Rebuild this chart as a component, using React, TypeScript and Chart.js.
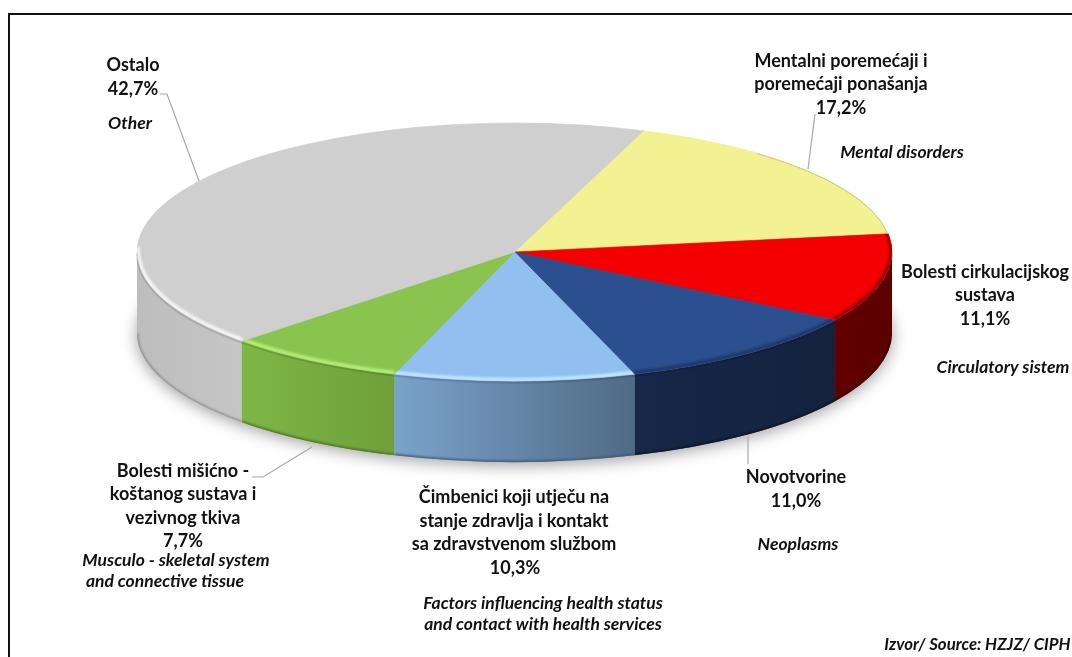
import React, { useEffect, useRef } from "react";
import { Chart, registerables } from "chart.js";

Chart.register(...registerables);

const categories = [
  "Mentalni poremećaji i poremećaji ponašanja",
  "Bolesti cirkulacijskog sustava",
  "Novotvorine",
  "Čimbenici koji utječu na stanje zdravlja i kontakt sa zdravstvenom službom",
  "Bolesti mišićno - koštanog sustava i vezivnog tkiva",
  "Ostalo",
];
const values = [17.2, 11.1, 11.0, 10.3, 7.7, 42.7];
const percentLabels = ["17,2%", "11,1%", "11,0%", "10,3%", "7,7%", "42,7%"];
const topColors = ["#f2f293", "#f50000", "#2c4f8f", "#90bff0", "#89c44f", "#cfcfcf"];
const wallLeftColors = ["#b8b878", "#620000", "#16274a", "#7aa3cb", "#7eb746", "#bdbdbd"];
const wallRightColors = ["#b8b878", "#5c0000", "#14223c", "#4f6a85", "#6f9f3a", "#c6c6c6"];
const bevelColors = ["#c9c98a", "#9c0000", "#1e3a6c", "#bfe6ff", "#b4ec78", "#f4f4f4"];
const baseEdgeColors = ["#888850", "#3a0000", "#0d1728", "#3f5a78", "#4e7328", "#8f8f8f"];

const englishLabels = [
  "Mental disorders",
  "Circulatory sistem",
  "Neoplasms",
  "Factors influencing health status",
  "and contact with health services",
  "Musculo - skeletal system",
  "and connective tissue",
  "Other",
];
const sourceLabel = "Izvor/ Source: HZJZ/ CIPH";

const BOLD = 'bold 18px Lato, "Open Sans", sans-serif';
const ITALIC = 'italic bold 17.5px Lato, "Open Sans", sans-serif';
const SOURCE = 'italic bold 16.8px Lato, "Open Sans", sans-serif';

const textBlocks: [string, number, number, string][] = [
  ["Ostalo", 133, 71, BOLD],
  [percentLabels[5], 133, 95, BOLD],
  [englishLabels[7], 130, 129, ITALIC],
  ["Mentalni poremećaji i", 841, 67, BOLD],
  ["poremećaji ponašanja", 841, 90, BOLD],
  [percentLabels[0], 841, 114, BOLD],
  [englishLabels[0], 902, 158, ITALIC],
  ["Bolesti cirkulacijskog", 985, 278, BOLD],
  ["sustava", 985, 301, BOLD],
  [percentLabels[1], 985, 325, BOLD],
  [englishLabels[1], 1003, 373, ITALIC],
  ["Novotvorine", 796, 483, BOLD],
  [percentLabels[2], 796, 507, BOLD],
  [englishLabels[2], 798, 550, ITALIC],
  ["Čimbenici koji utječu na", 514, 503, BOLD],
  ["stanje zdravlja i kontakt", 514, 527, BOLD],
  ["sa zdravstvenom službom", 514, 550, BOLD],
  [percentLabels[3], 515, 574, BOLD],
  [englishLabels[3], 543, 609, ITALIC],
  [englishLabels[4], 543, 630, ITALIC],
  ["Bolesti mišićno -", 183, 477, BOLD],
  ["koštanog sustava i", 183, 500, BOLD],
  ["vezivnog tkiva", 183, 524, BOLD],
  [percentLabels[4], 183, 547, BOLD],
  [englishLabels[5], 176, 566, ITALIC],
  [englishLabels[6], 165, 587, ITALIC],
  [sourceLabel, 977.5, 650, SOURCE],
];

const leaders: [number, number][][] = [
  [[160, 94], [167, 94], [199, 181]],
  [[815, 114], [808, 169]],
  [[252, 477], [263, 477], [312, 447]],
  [[748, 437], [748, 464]],
];

const SQUASH = 129 / 377.5;
const DEPTH = 81;

function spans(a0: number, a1: number, lo: number, hi: number): [number, number][] {
  const out: [number, number][] = [];
  for (let k = -2; k <= 2; k++) {
    const s = Math.max(a0 + k * 2 * Math.PI, lo);
    const e = Math.min(a1 + k * 2 * Math.PI, hi);
    if (e > s) out.push([s, e]);
  }
  return out;
}

const pie3d = {
  id: "pie3d",
  beforeDatasetsDraw(chart: any) {
    const ctx: CanvasRenderingContext2D = chart.ctx;
    const arcs = chart.getDatasetMeta(0).data;
    const { x: cx, y: cy, outerRadius: rx } = arcs[0];
    const ry = rx * SQUASH;

    // soft ground shadow
    ctx.save();
    ctx.shadowColor = "rgba(0,0,0,0.38)";
    ctx.shadowBlur = 16;
    ctx.shadowOffsetY = 3;
    ctx.fillStyle = "#bbbbbb";
    ctx.beginPath();
    ctx.ellipse(cx, cy + DEPTH, rx, ry, 0, 0, Math.PI * 2);
    ctx.fill();
    ctx.restore();

    // back face filler under the top
    ctx.fillStyle = "#ffffff";
    ctx.beginPath();
    ctx.ellipse(cx, cy, rx, ry, 0, Math.PI, Math.PI * 2);
    ctx.fill();

    // side walls
    arcs.forEach((el: any, i: number) => {
      spans(el.startAngle, el.endAngle, 0, Math.PI).forEach(([s, e]) => {
        const xa = cx + rx * Math.cos(e);
        const xb = cx + rx * Math.cos(s);
        const g = ctx.createLinearGradient(xa, 0, xb, 0);
        g.addColorStop(0, wallLeftColors[i]);
        g.addColorStop(1, wallRightColors[i]);
        ctx.save();
        ctx.beginPath();
        ctx.ellipse(cx, cy, rx, ry, 0, s, e);
        ctx.ellipse(cx, cy + DEPTH, rx, ry, 0, e, s, true);
        ctx.closePath();
        ctx.fillStyle = g;
        ctx.fill();
        ctx.clip();
        // dark foot of the wall
        ctx.filter = "blur(1.2px)";
        ctx.strokeStyle = baseEdgeColors[i];
        ctx.lineWidth = 3;
        ctx.beginPath();
        ctx.ellipse(cx, cy + DEPTH, rx, ry, 0, s, e);
        ctx.stroke();
        ctx.restore();
      });
    });

    // squash the library's circular pie into the ellipse
    ctx.save();
    ctx.translate(cx, cy);
    ctx.scale(1, SQUASH);
    ctx.translate(-cx, -cy);
  },
  afterDatasetsDraw(chart: any) {
    const ctx: CanvasRenderingContext2D = chart.ctx;
    ctx.restore();
    const arcs = chart.getDatasetMeta(0).data;
    const { x: cx, y: cy, outerRadius: rx } = arcs[0];
    const ry = rx * SQUASH;

    // bevel on the front rim of the top face (the right side wraps slightly behind)
    arcs.forEach((el: any, i: number) => {
      ctx.save();
      ctx.beginPath();
      ctx.moveTo(cx, cy);
      ctx.ellipse(cx, cy, rx, ry, 0, el.startAngle, el.endAngle);
      ctx.closePath();
      ctx.clip();
      ctx.filter = "blur(1px)";
      ctx.strokeStyle = bevelColors[i];
      ctx.lineWidth = 4;
      spans(el.startAngle, el.endAngle, -0.15, Math.PI + 0.03).forEach(([s, e]) => {
        ctx.beginPath();
        ctx.ellipse(cx, cy - 1.5, rx - 1, ry, 0, s, e);
        ctx.stroke();
      });
      ctx.restore();
    });

    // hairline on the back of the yellow slice
    const yellow = arcs[0];
    ctx.save();
    ctx.strokeStyle = bevelColors[0];
    ctx.lineWidth = 1;
    ctx.beginPath();
    ctx.ellipse(cx, cy, rx - 0.5, ry - 0.5, 0, yellow.startAngle + 0.35, yellow.endAngle);
    ctx.stroke();
    ctx.restore();

    // thin shade just under the bevel
    arcs.forEach((el: any) => {
      spans(el.startAngle, el.endAngle, 0, Math.PI).forEach(([s, e]) => {
        ctx.save();
        ctx.strokeStyle = "rgba(0,0,0,0.12)";
        ctx.lineWidth = 2;
        ctx.beginPath();
        ctx.ellipse(cx, cy + 1.5, rx, ry, 0, s, e);
        ctx.stroke();
        ctx.restore();
      });
    });

    // leader lines
    ctx.save();
    ctx.strokeStyle = "#a8a8a8";
    ctx.lineWidth = 1.2;
    leaders.forEach((pts) => {
      ctx.beginPath();
      pts.forEach(([x, y], k) => (k ? ctx.lineTo(x, y) : ctx.moveTo(x, y)));
      ctx.stroke();
    });
    ctx.restore();

    // text
    ctx.save();
    ctx.fillStyle = "#111111";
    ctx.textAlign = "center";
    ctx.textBaseline = "alphabetic";
    textBlocks.forEach(([t, x, y, f]) => {
      ctx.font = f;
      ctx.fillText(t, x, y);
    });
    ctx.restore();

    // frame
    ctx.save();
    ctx.strokeStyle = "#111111";
    ctx.lineWidth = 2;
    ctx.beginPath();
    ctx.moveTo(9, 657);
    ctx.lineTo(9, 14);
    ctx.lineTo(1072, 14);
    ctx.stroke();
    ctx.restore();
  },
};

export default function App() {
  const ref = useRef<HTMLCanvasElement>(null);
  useEffect(() => {
    document.body.style.margin = "0";
    document.body.style.background = "#ffffff";
    const chart = new Chart(ref.current as HTMLCanvasElement, {
      type: "pie",
      data: {
        labels: categories,
        datasets: [
          {
            data: values,
            backgroundColor: topColors,
            borderColor: topColors,
            borderWidth: 1,
            radius: 377.5,
            rotation: 20,
            clip: false,
          } as any,
        ],
      },
      options: {
        responsive: false,
        animation: false,
        layout: { padding: { left: 0, right: 43, top: 0, bottom: 153 } },
        plugins: { legend: { display: false }, tooltip: { enabled: false }, title: { display: false } },
      },
      plugins: [pie3d],
    });
    return () => chart.destroy();
  }, []);
  return <canvas ref={ref} width={1072} height={657} style={{ display: "block" }} />;
}
